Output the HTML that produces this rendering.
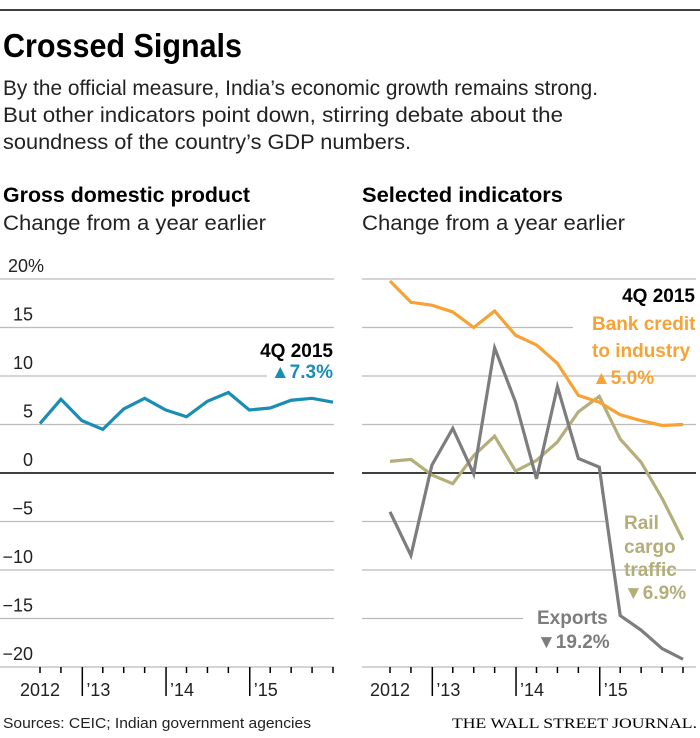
<!DOCTYPE html>
<html><head><meta charset="utf-8"><style>
html,body{margin:0;padding:0;background:#fff;}
svg{display:block;font-family:"Liberation Sans Narrow","Liberation Sans",sans-serif;}
</style></head><body>
<svg id="c" width="700" height="738" viewBox="0 0 700 738">
<line x1="0" y1="10" x2="700" y2="10" stroke="#000" stroke-width="1.5"/>
<text x="3" y="57" font-size="33" font-weight="bold" textLength="239" lengthAdjust="spacingAndGlyphs">Crossed Signals</text>
<g font-size="21" fill="#222">
<text x="3" y="95" textLength="595" lengthAdjust="spacingAndGlyphs">By the official measure, India’s economic growth remains strong.</text>
<text x="3" y="122" textLength="560" lengthAdjust="spacingAndGlyphs">But other indicators point down, stirring debate about the</text>
<text x="3" y="149" textLength="408" lengthAdjust="spacingAndGlyphs">soundness of the country’s GDP numbers.</text>
</g>
<text x="3" y="202" font-size="21" font-weight="bold" textLength="247" lengthAdjust="spacingAndGlyphs">Gross domestic product</text>
<text x="3" y="230" font-size="21" fill="#222" textLength="263" lengthAdjust="spacingAndGlyphs">Change from a year earlier</text>
<text x="362" y="202" font-size="21" font-weight="bold" textLength="201" lengthAdjust="spacingAndGlyphs">Selected indicators</text>
<text x="362" y="230" font-size="21" fill="#222" textLength="263" lengthAdjust="spacingAndGlyphs">Change from a year earlier</text>
<g id="left"></g>
<g id="right"></g>
<text x="3" y="728" font-size="15" fill="#222" textLength="308" lengthAdjust="spacingAndGlyphs">Sources: CEIC; Indian government agencies</text>
<text x="697" y="728" font-size="15" text-anchor="end" font-family="Liberation Serif,serif" textLength="245" lengthAdjust="spacingAndGlyphs">THE WALL STREET JOURNAL.</text>
</svg>
<script>
const yTicks = [20, 15, 10, 5, 0, -5, -10, -15, -20];
const yTickLabels = ["20%", "15", "10", "5", "0", "-5", "-10", "-15", "-20"];
const quarters = ["12Q1","12Q2","12Q3","12Q4","13Q1","13Q2","13Q3","13Q4","14Q1","14Q2","14Q3","14Q4","15Q1","15Q2","15Q3"];
const xYearLabels = ["2012", "’13", "’14", "’15"];
const gdp = [5.1, 7.6, 5.4, 4.5, 6.6, 7.7, 6.5, 5.8, 7.4, 8.3, 6.5, 6.7, 7.5, 7.7, 7.3];
const bankCredit = [19.8, 17.6, 17.3, 16.6, 15.0, 16.7, 14.2, 13.2, 11.3, 8.0, 7.3, 6.0, 5.4, 4.9, 5.0];
const exportsSeries = [-4.0, -8.5, 0.8, 4.6, -0.1, 12.9, 7.3, -0.6, 8.9, 1.5, 0.6, -14.7, -16.2, -18.1, -19.2];
const railCargo = [1.2, 1.4, -0.2, -1.1, 1.8, 3.8, 0.2, 1.3, 3.2, 6.3, 7.9, 3.5, 1.1, -2.6, -6.9];

const NS = "http://www.w3.org/2000/svg";
function mk(parent, tag, attrs){const e=document.createElementNS(NS,tag);for(const k in attrs)e.setAttribute(k,attrs[k]);parent.appendChild(e);return e;}
const y = v => 473 - v * 9.7;
function xf(x0){const step=(x0===0?293:293)/(quarters.length-1);return i => (x0+40) + i*step;}

function axes(g, x0, gridEnds, showLabels){
  const xs = xf(x0);
  yTicks.forEach((t,i)=>{
    const l = mk(g,'line',{x1:gridEnds[i][0],x2:gridEnds[i][1],y1:y(t),y2:y(t),stroke:t===0?'#000':'#bbb','stroke-width':t===0?1.6:1.2});
    
    
    if(showLabels){
      const tx = mk(g,'text',{x:yTickLabels[i]==="20%"?8:33,y:y(t)-7,'font-size':18,fill:'#222','text-anchor':yTickLabels[i]==="20%"?'start':'end'});
      tx.textContent = yTickLabels[i].replace('-','−');
      
      
    }
  });
  quarters.forEach((q,i)=>{
    const major = (i===2||i===6||i===10);
    const px = major ? (xs(i)+xs(i+1))/2 - 10 : xs(i);
    const t = mk(g,'line',{x1:px,x2:px,y1:667,y2:major?696:673,stroke:'#000','stroke-width':1.5});
    
    
  });
  const lx=[x0+20, xs(2)+xs(3)-xs(2)-10+xs(2)/1e9+ ( (xs(2)+xs(3))/2 - 10 - xs(2) ) + 4, 0, 0];
  [[0,x0+20,'start'],[1,(xs(2)+xs(3))/2-6,'start'],[2,(xs(6)+xs(7))/2-6,'start'],[3,(xs(10)+xs(11))/2-6,'start']].forEach(([k,px,a])=>{
    const tx = mk(g,'text',{x:px,y:696,'font-size':18,fill:'#222','text-anchor':a});
    tx.textContent = xYearLabels[k];
    
    
  });
  return xs;
}
function line(g, xs, vals, color, name){
  const p = mk(g,'polyline',{points:vals.map((v,i)=>xs(i)+','+y(v)).join(' '),fill:'none',stroke:color,'stroke-width':3.2,'stroke-linejoin':'miter'});
  
  
}
function label(g, x, yy, txt, color, name, anchor){
  const t = mk(g,'text',{x:x,y:yy,'font-size':19,'font-weight':'bold',fill:color,'text-anchor':anchor||'end'});
  t.textContent = txt;
  
  
}

const L = document.getElementById('left');
const lg = yTicks.map((t,i)=> i===2 ? [0,267] : [0,334]);
const xsL = axes(L, 0, lg, true);
line(L, xsL, gdp, '#1a8db5', 'gdp-line');
label(L, 333, 357, '4Q 2015', '#000', 'gdp-annotation-date');
label(L, 333, 378, '▲7.3%', '#1a8db5', 'gdp-annotation-value');

const R = document.getElementById('right');
const rg = [[362,696],[362,573],[362,696],[362,696],[362,696],[362,605],[362,696],[362,523],[362,696]];
const xsR = axes(R, 350, rg, false);
line(R, xsR, railCargo, '#b3ae7a', 'rail-cargo-line');
line(R, xsR, exportsSeries, '#7d7d80', 'exports-line');
line(R, xsR, bankCredit, '#f7a234', 'bank-credit-line');
label(R, 695, 302, '4Q 2015', '#000', 'indicators-annotation-date');
label(R, 592, 330, 'Bank credit', '#f7a234', 'bank-credit-label', 'start');
label(R, 592, 357, 'to industry', '#f7a234', 'bank-credit-label-2', 'start');
label(R, 592, 384, '▲5.0%', '#f7a234', 'bank-credit-value', 'start');
label(R, 624, 529, 'Rail', '#b3ae7a', 'rail-label', 'start');
label(R, 624, 553, 'cargo', '#b3ae7a', 'rail-label-2', 'start');
label(R, 624, 576, 'traffic', '#b3ae7a', 'rail-label-3', 'start');
label(R, 624, 599, '▼6.9%', '#b3ae7a', 'rail-value', 'start');
label(R, 537, 624, 'Exports', '#7d7d80', 'exports-label', 'start');
label(R, 537, 648, '▼19.2%', '#7d7d80', 'exports-value', 'start');
</script>
</body></html>
